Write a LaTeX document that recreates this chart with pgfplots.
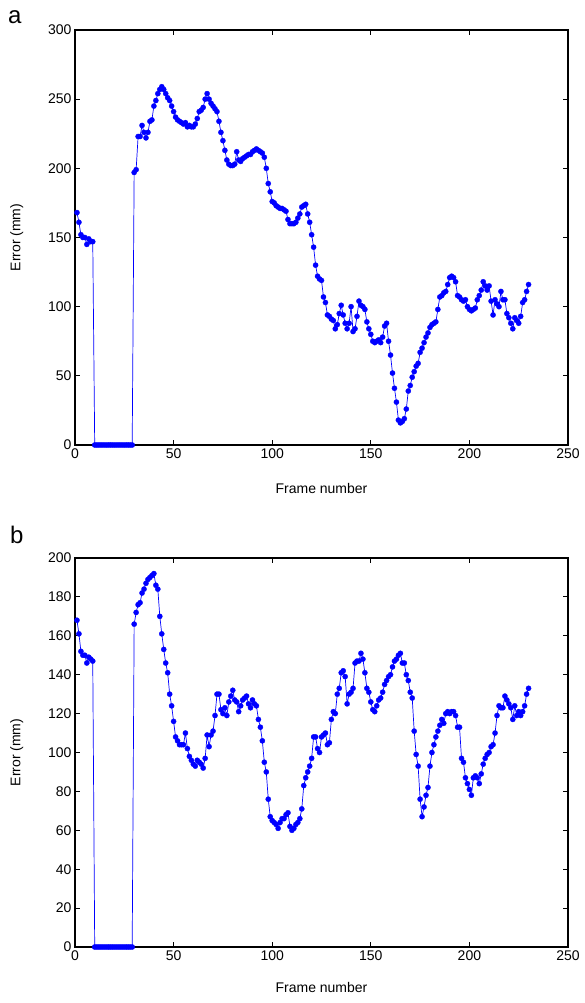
\documentclass[border=0pt]{standalone}
\usepackage{pgfplots}
\pgfplotsset{compat=1.18}
\usepackage{pgfplotstable}
\usepackage{fontspec}
\setmainfont{Liberation Sans}

\pgfplotstableread{
f v
1 168
2 161
3 152
4 150
5 150
6 145
7 149
8 147
9 147
10 0
11 0
12 0
13 0
14 0
15 0
16 0
17 0
18 0
19 0
20 0
21 0
22 0
23 0
24 0
25 0
26 0
27 0
28 0
29 0
30 197
31 199
32 223
33 223
34 231
35 226
36 222
37 226
38 234
39 235
40 245
41 249
42 254
43 257
44 259
45 257
46 254
47 251
48 249
49 245
50 241
51 237
52 235
53 234
54 233
55 232
56 233
57 230
58 231
59 230
60 230
61 232
62 236
63 241
64 242
65 244
66 250
67 254
68 250
69 247
70 245
71 243
72 241
73 234
74 226
75 220
76 213
77 206
78 203
79 202
80 202
81 203
82 212
83 206
84 205
85 207
86 208
87 209
88 210
89 210
90 212
91 213
92 214
93 213
94 212
95 211
96 208
97 200
98 189
99 183
100 176
101 175
102 173
103 172
104 171
105 171
106 170
107 169
108 163
109 160
110 160
111 160
112 161
113 164
114 167
115 172
116 173
117 174
118 167
119 161
120 152
121 143
122 130
123 122
124 120
125 119
126 107
127 103
128 94
129 93
130 91
131 90
132 84
133 87
134 95
135 101
136 94
137 88
138 84
139 88
140 100
141 82
142 84
143 93
144 104
145 101
146 100
147 98
148 89
149 84
150 80
151 75
152 74
153 75
154 76
155 74
156 78
157 86
158 88
159 75
160 65
161 52
162 41
163 31
164 18
165 16
166 17
167 19
168 26
169 39
170 43
171 49
172 53
173 57
174 59
175 67
176 70
177 74
178 78
179 81
180 85
181 87
182 88
183 89
184 98
185 107
186 108
187 110
188 111
189 116
190 121
191 122
192 121
193 118
194 108
195 107
196 105
197 104
198 105
199 100
200 98
201 97
202 98
203 99
204 105
205 108
206 112
207 118
208 115
209 112
210 115
211 104
212 94
213 105
214 102
215 100
216 111
217 105
218 105
219 95
220 92
221 88
222 84
223 92
224 90
225 88
226 93
227 103
228 105
229 111
230 116
}\dataA

\pgfplotstableread{
f v
1 168
2 161
3 152
4 150
5 150
6 146
7 149
8 148
9 147
10 0
11 0
12 0
13 0
14 0
15 0
16 0
17 0
18 0
19 0
20 0
21 0
22 0
23 0
24 0
25 0
26 0
27 0
28 0
29 0
30 166
31 172
32 176
33 177
34 182
35 184
36 187
37 189
38 190
39 191
40 192
41 186
42 184
43 170
44 161
45 153
46 146
47 141
48 130
49 124
50 116
51 108
52 106
53 104
54 104
55 104
56 110
57 102
58 98
59 96
60 94
61 93
62 96
63 95
64 94
65 92
66 97
67 109
68 103
69 109
70 111
71 119
72 130
73 130
74 122
75 120
76 123
77 119
78 126
79 129
80 132
81 127
82 126
83 121
84 124
85 127
86 128
87 129
88 125
89 123
90 127
91 125
92 124
93 117
94 113
95 106
96 95
97 90
98 76
99 67
100 65
101 64
102 63
103 61
104 64
105 66
106 66
107 68
108 69
109 62
110 60
111 61
112 63
113 64
114 66
115 71
116 83
117 87
118 90
119 93
120 97
121 108
122 108
123 102
124 100
125 108
126 109
127 110
128 104
129 105
130 117
131 121
132 120
133 130
134 133
135 141
136 142
137 139
138 125
139 130
140 131
141 133
142 146
143 147
144 147
145 151
146 148
147 141
148 133
149 131
150 126
151 122
152 121
153 124
154 127
155 128
156 131
157 135
158 137
159 139
160 140
161 144
162 147
163 148
164 150
165 151
166 146
167 146
168 140
169 137
170 131
171 128
172 111
173 99
174 93
175 76
176 67
177 72
178 78
179 82
180 93
181 100
182 104
183 108
184 111
185 114
186 117
187 115
188 120
189 121
190 120
191 121
192 121
193 119
194 113
195 113
196 97
197 95
198 87
199 84
200 81
201 78
202 87
203 88
204 87
205 84
206 89
207 94
208 97
209 99
210 100
211 103
212 104
213 110
214 119
215 124
216 123
217 123
218 129
219 127
220 125
221 123
222 117
223 124
224 119
225 121
226 119
227 121
228 124
229 130
230 133
}\dataB

\pgfplotsset{
  myaxis/.style={
    scale only axis,
    width=493pt,
    xmin=0, xmax=250,
    xtick={0,50,100,150,200,250},
    tick align=inside,
    major tick length=5pt,
    axis line style={line width=1.1pt},
    tick style={line width=0.9pt, black},
    ticklabel style={font=\fontsize{14}{16}\selectfont},
    label style={font=\fontsize{14}{16}\selectfont},
    /pgf/number format/assume math mode=true,
    xlabel={Frame number},
    ylabel={Error (mm)},
    xlabel style={at={(axis description cs:0.5,-0.105)},anchor=center},
    ylabel style={at={(axis description cs:-0.118,0.5)},anchor=center},
    clip=false,
  },
  myline/.style={
    color=blue, line width=0.7pt,
    mark=*, mark size=2.6pt, mark options={fill=blue, draw=blue, line width=0.3pt},
  },
}

\begin{document}
\begin{tikzpicture}[x=1pt,y=1pt]
\path[use as bounding box] (0,0) rectangle (585,1003);
\begin{axis}[myaxis,
  at={(75pt,558pt)}, anchor=south west,
  height=415pt,
  ymin=0, ymax=300,
  ytick={0,50,100,150,200,250,300},
]
\addplot[myline] table[x=f,y=v] {\dataA};
\node[font=\fontsize{24}{26}\selectfont] at (rel axis cs:-0.122,1.03) {a};
\end{axis}
\begin{axis}[myaxis,
  at={(75pt,56pt)}, anchor=south west,
  height=389pt,
  ymin=0, ymax=200,
  ytick={0,20,40,60,80,100,120,140,160,180,200},
]
\addplot[myline] table[x=f,y=v] {\dataB};
\node[font=\fontsize{24}{26}\selectfont] at (rel axis cs:-0.118,1.06) {b};
\end{axis}
\end{tikzpicture}
\end{document}
